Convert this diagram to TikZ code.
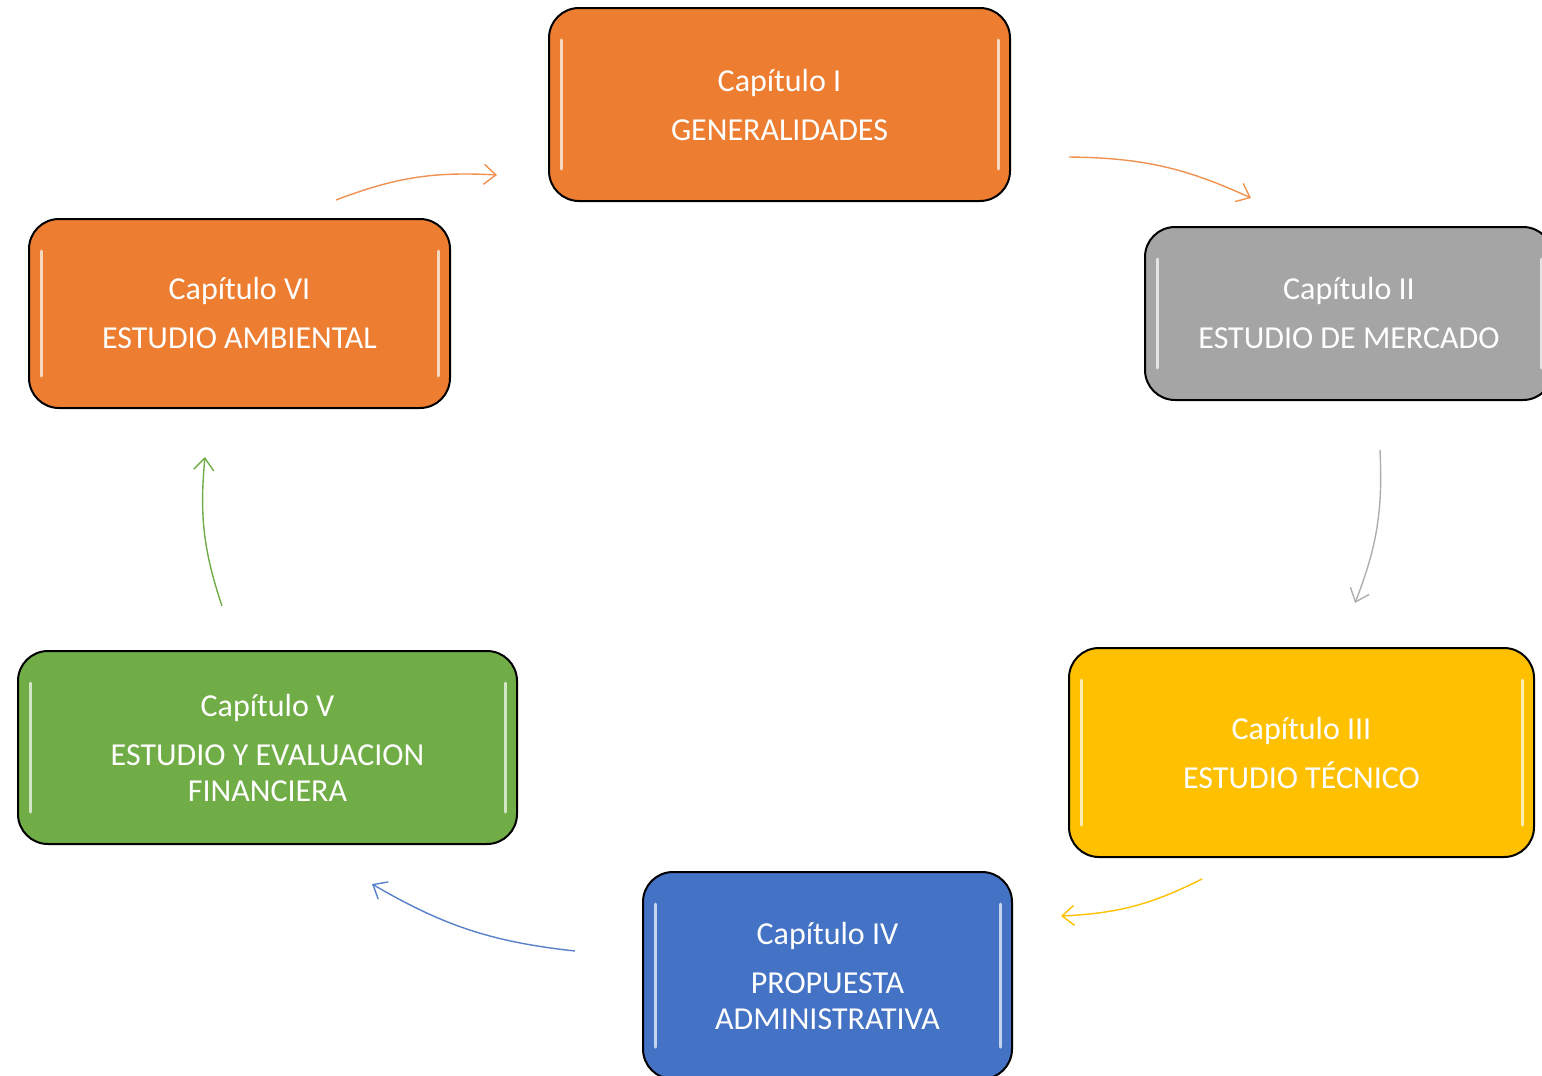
\documentclass[tikz,border=0pt]{standalone}
\usepackage{fontspec}
\setmainfont{Carlito}
\usepackage{xcolor}
\usepackage{tikz}
\usetikzlibrary{arrows.meta}
\definecolor{naranja}{HTML}{ED7D31}
\definecolor{gris}{HTML}{A5A5A5}
\definecolor{amarillo}{HTML}{FFC000}
\definecolor{azul}{HTML}{4472C4}
\definecolor{verde}{HTML}{70AD47}
\begin{document}
\begin{tikzpicture}[x=0.5pt,y=-0.5pt,
  capitulo/.style={draw=black, line width=1pt, rounded corners=15pt, text=white, align=center,
    font=\fontsize{16}{18}\selectfont,
    path picture={\draw[white, opacity=0.7, line width=1.5pt, line cap=round]
      ([xshift=6pt,yshift=-16pt]path picture bounding box.north west) -- ([xshift=6pt,yshift=16pt]path picture bounding box.south west);
      \draw[white, opacity=0.7, line width=1.5pt, line cap=round]
      ([xshift=-6pt,yshift=-16pt]path picture bounding box.north east) -- ([xshift=-6pt,yshift=16pt]path picture bounding box.south east);}},
  flecha/.style={line width=0.7pt, -{Straight Barb[length=6pt,width=10pt]}, bend left=12}]
\useasboundingbox (0,0) rectangle (1542,1076);
% capitulos
\node[capitulo, fill=naranja, minimum width=230.5pt, minimum height=96.5pt] (I) at (779.5,104.5) {Cap\'itulo I\\[6.5pt]GENERALIDADES};
\node[capitulo, fill=gris, minimum width=204pt, minimum height=86.5pt] (II) at (1349,313.5) {Cap\'itulo II\\[6.5pt]ESTUDIO DE MERCADO};
\node[capitulo, fill=amarillo, minimum width=232.5pt, minimum height=104.5pt] (III) at (1301.5,752.5) {Cap\'itulo III\\[6.5pt]ESTUDIO T\'ECNICO};
\node[capitulo, fill=azul, minimum width=184.5pt, minimum height=103.5pt] (IV) at (827.5,975.5) {Cap\'itulo IV\\[6.5pt]PROPUESTA\\ADMINISTRATIVA};
\node[capitulo, fill=verde, minimum width=249.5pt, minimum height=96.5pt] (V) at (267.5,747.5) {Cap\'itulo V\\[6.5pt]ESTUDIO Y EVALUACION\\FINANCIERA};
\node[capitulo, fill=naranja, minimum width=210.5pt, minimum height=94.5pt] (VI) at (239.5,313.5) {Cap\'itulo VI\\[6.5pt]ESTUDIO AMBIENTAL};
% flechas
\coordinate (a1) at (336,200); \coordinate (b1) at (497,175);
\coordinate (a2) at (1069,157); \coordinate (b2) at (1251,198);
\coordinate (a3) at (1380,450); \coordinate (b3) at (1355,603);
\coordinate (a4) at (1202,879); \coordinate (b4) at (1061,916);
\coordinate (a5) at (575,951); \coordinate (b5) at (372,884);
\coordinate (a6) at (222,606); \coordinate (b6) at (205,457);
\draw[flecha, naranja!85] (a1) to (b1);
\draw[flecha, naranja!85] (a2) to (b2);
\draw[flecha, gris!90] (a3) to (b3);
\draw[flecha, amarillo] (a4) to (b4);
\draw[flecha, azul!90] (a5) to (b5);
\draw[flecha, verde] (a6) to (b6);
\end{tikzpicture}
\end{document}
